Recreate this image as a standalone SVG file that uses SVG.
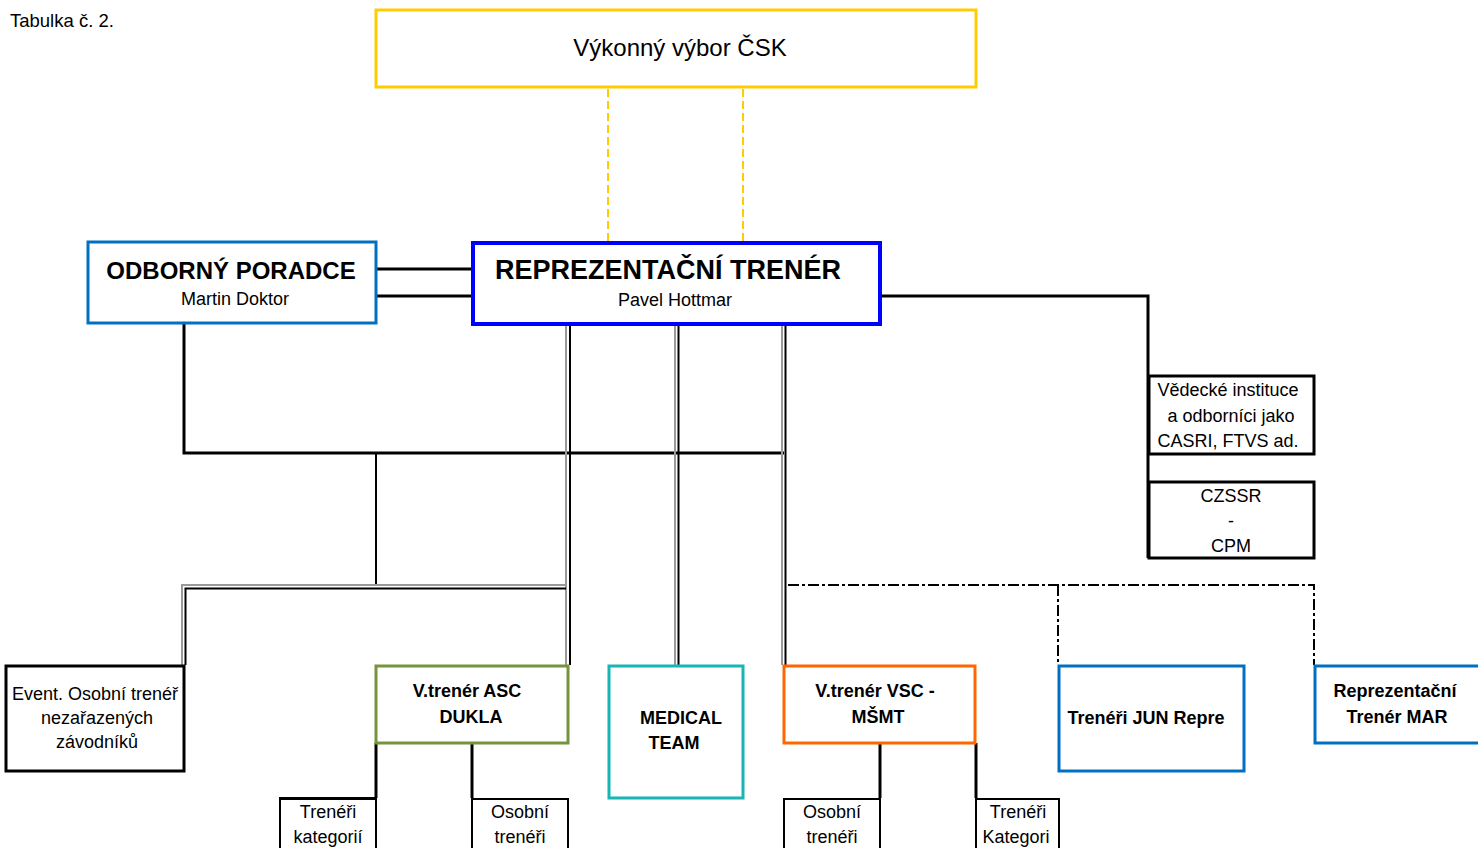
<svg xmlns="http://www.w3.org/2000/svg" width="1478" height="848" viewBox="0 0 1478 848">
<style>
text{font-family:"Liberation Sans",Arial,sans-serif;fill:#000}
.n{font-size:18px}
.b{font-weight:bold;font-size:18px}
.c{text-anchor:middle}
.blk{stroke:#000;fill:#fff}
.ln{stroke:#000;fill:none;stroke-width:3}
.g{stroke:#999;fill:none;stroke-width:2}
.k{stroke:#000;fill:none;stroke-width:2}
.dd{stroke:#000;fill:none;stroke-width:2;stroke-dasharray:11,3,3,3}
</style>
<rect width="1478" height="848" fill="#fff"/>
<text x="10" y="27" style="font-size:18.5px">Tabulka č. 2.</text>

<g id="connectors">
  <line x1="608" y1="89" x2="608" y2="241" stroke="#FFCC00" stroke-width="2" stroke-dasharray="8,4"/>
  <line x1="743" y1="89" x2="743" y2="241" stroke="#FFCC00" stroke-width="2" stroke-dasharray="8,4"/>
  <line class="ln" x1="376" y1="269" x2="472" y2="269"/>
  <line class="ln" x1="376" y1="296" x2="472" y2="296"/>
  <polyline class="ln" points="882,296 1148,296 1148,558"/>
  <polyline class="ln" points="184,323 184,453 784,453"/>
  <line class="k" x1="376" y1="453" x2="376" y2="586"/>
  <line class="g" x1="566" y1="326" x2="566" y2="665"/>
  <line class="k" x1="570" y1="326" x2="570" y2="665"/>
  <line class="g" x1="675" y1="326" x2="675" y2="665"/>
  <line class="k" x1="678.5" y1="326" x2="678.5" y2="665"/>
  <line class="g" x1="782" y1="326" x2="782" y2="665"/>
  <line class="k" x1="785.5" y1="326" x2="785.5" y2="665"/>
  <polyline class="g" points="566,585 182,585 182,665"/>
  <polyline class="k" points="566,588.5 185.5,588.5 185.5,665"/>
  <polyline class="dd" points="788,585 1314,585 1314,665"/>
  <line class="dd" x1="1058" y1="585" x2="1058" y2="665"/>
  <line class="ln" x1="376" y1="743" x2="376" y2="798"/>
  <line class="ln" x1="472" y1="743" x2="472" y2="798"/>
  <line class="ln" x1="880" y1="743" x2="880" y2="798"/>
  <line class="ln" x1="976" y1="743" x2="976" y2="798"/>
</g>

<g id="vykonny-vybor">
  <rect x="376" y="10" width="600" height="77" fill="#fff" stroke="#FFCC00" stroke-width="3"/>
  <text x="680" y="56" class="c" style="font-size:24px">Výkonný výbor ČSK</text>
</g>

<g id="reprezentacni-trener">
  <rect x="473" y="243" width="407" height="81" fill="#fff" stroke="#0000FF" stroke-width="4"/>
  <text x="495" y="279" style="font-size:27px;font-weight:bold">REPREZENTAČNÍ TRENÉR</text>
  <text x="675" y="306" class="n c">Pavel Hottmar</text>
</g>

<g id="odborny-poradce">
  <rect x="88" y="242" width="288" height="81" fill="#fff" stroke="#0070C0" stroke-width="3"/>
  <text x="231" y="279" class="c" style="font-size:24px;font-weight:bold">ODBORNÝ PORADCE</text>
  <text x="235" y="305" class="n c">Martin Doktor</text>
</g>

<g id="vedecke-instituce">
  <rect x="1149" y="376" width="165" height="78" class="blk" stroke-width="3"/>
  <text x="1228" y="396" class="n c">Vědecké instituce</text>
  <text x="1231" y="422" class="n c">a odborníci jako</text>
  <text x="1228" y="447" class="n c">CASRI, FTVS ad.</text>
</g>

<g id="czssr">
  <rect x="1149" y="482" width="165" height="76" class="blk" stroke-width="3"/>
  <text x="1231" y="502" class="n c">CZSSR</text>
  <text x="1231" y="527" class="n c">-</text>
  <text x="1231" y="552" class="n c">CPM</text>
</g>

<g id="event-osobni">
  <rect x="6" y="666" width="178" height="105" class="blk" stroke-width="3"/>
  <text x="95" y="700" class="n c">Event. Osobní trenéř</text>
  <text x="97" y="724" class="n c">nezařazených</text>
  <text x="97" y="748" class="n c">závodníků</text>
</g>

<g id="asc-dukla">
  <rect x="376" y="666" width="192" height="77" fill="#fff" stroke="#77933C" stroke-width="3"/>
  <text x="467" y="697" class="b c">V.trenér ASC</text>
  <text x="471" y="723" class="b c">DUKLA</text>
</g>

<g id="medical-team">
  <rect x="609" y="666" width="134" height="132" fill="#fff" stroke="#17B5B5" stroke-width="3"/>
  <text x="681" y="724" class="b c">MEDICAL</text>
  <text x="674" y="749" class="b c">TEAM</text>
</g>

<g id="vsc-msmt">
  <rect x="784" y="666" width="191" height="77" fill="#fff" stroke="#FF6600" stroke-width="3"/>
  <text x="875" y="697" class="b c">V.trenér VSC -</text>
  <text x="878" y="723" class="b c">MŠMT</text>
</g>

<g id="treneri-jun">
  <rect x="1059" y="666" width="185" height="105" fill="#fff" stroke="#0070C0" stroke-width="3"/>
  <text x="1146" y="724" class="b c">Trenéři JUN Repre</text>
</g>

<g id="repre-mar">
  <rect x="1315" y="666" width="170" height="77" fill="#fff" stroke="#0070C0" stroke-width="3"/>
  <text x="1395" y="697" class="b c">Reprezentační</text>
  <text x="1397" y="723" class="b c">Trenér MAR</text>
</g>

<g id="treneri-kategorii">
  <rect x="280" y="799" width="96" height="60" class="blk" stroke-width="2"/>
  <line x1="279" y1="798.5" x2="377" y2="798.5" stroke="#000" stroke-width="3"/>
  <text x="328" y="818" class="n c">Trenéři</text>
  <text x="328" y="843" class="n c">kategorií</text>
</g>

<g id="osobni-treneri-asc">
  <rect x="472" y="799" width="96" height="60" class="blk" stroke-width="2"/>
  <text x="520" y="818" class="n c">Osobní</text>
  <text x="520" y="843" class="n c">trenéři</text>
</g>

<g id="osobni-treneri-vsc">
  <rect x="784" y="799" width="96" height="60" class="blk" stroke-width="2"/>
  <text x="832" y="818" class="n c">Osobní</text>
  <text x="832" y="843" class="n c">trenéři</text>
</g>

<g id="treneri-kategori-vsc">
  <rect x="976" y="799" width="83" height="60" class="blk" stroke-width="2"/>
  <text x="1018" y="818" class="n c">Trenéři</text>
  <text x="1016" y="843" class="n c">Kategori</text>
</g>
</svg>
